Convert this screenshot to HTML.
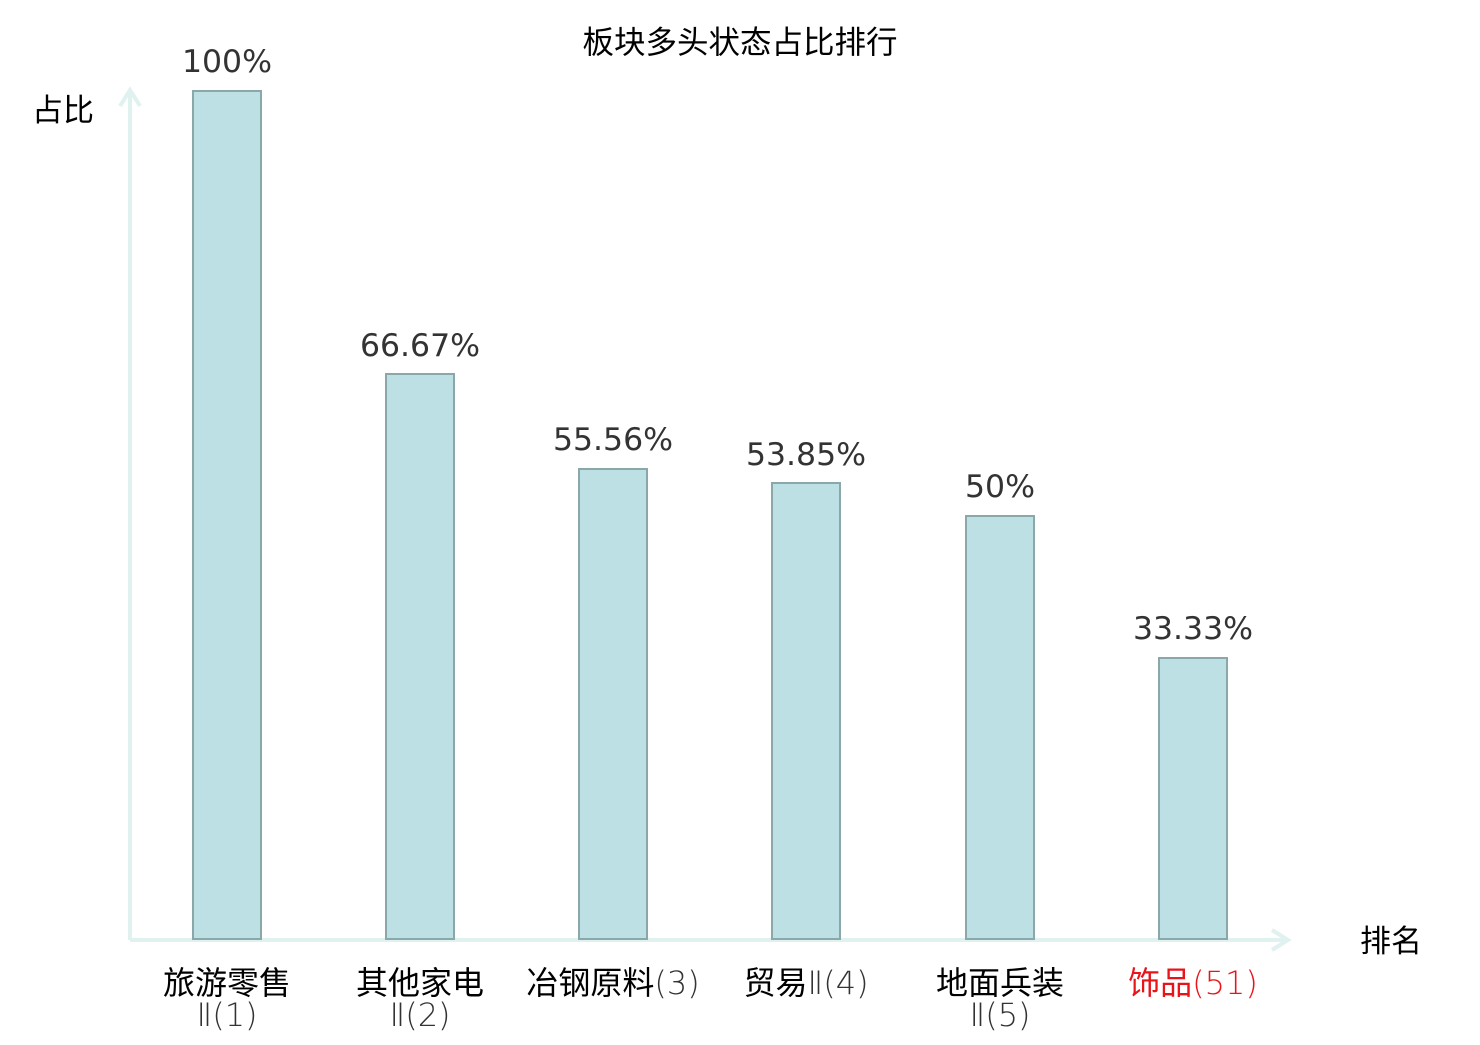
<!DOCTYPE html>
<html><head><meta charset="utf-8"><style>body{margin:0;background:#fff}.l{font-family:"DejaVu Sans ExtraLight","DejaVu Sans",sans-serif;font-weight:200}</style></head><body>
<svg width="1480" height="1040" xmlns="http://www.w3.org/2000/svg" font-family="'DejaVu Sans','Noto Sans CJK SC',sans-serif">
<rect width="1480" height="1040" fill="#fff"/>
<text x="740" y="53" font-size="31.5" text-anchor="middle" fill="#000">板块多头状态占比排行</text>
<text x="63" y="121" font-size="31" text-anchor="middle" fill="#000">占比</text>
<text x="1391" y="952" font-size="31" text-anchor="middle" fill="#000">排名</text>
<g stroke="#dff2f0" stroke-width="4" fill="none">
<line x1="130" y1="940" x2="130" y2="90"/>
<polyline points="120,106 130,90 140,106"/>
<line x1="130" y1="940" x2="1288" y2="940"/>
<polyline points="1272,930 1288,940 1272,950"/>
</g>
<g fill="#bce0e3" stroke="#8aa8aa" stroke-width="2">
<rect x="193" y="91" width="68" height="848"/>
<rect x="386" y="374" width="68" height="565"/>
<rect x="579" y="469" width="68" height="470"/>
<rect x="772" y="483" width="68" height="456"/>
<rect x="966" y="516" width="68" height="423"/>
<rect x="1159" y="658" width="68" height="281"/>
</g>
<g font-size="31.5" fill="#333" text-anchor="middle">
<text x="227" y="72">100%</text>
<text x="420" y="356">66.67%</text>
<text x="613" y="450">55.56%</text>
<text x="806" y="465">53.85%</text>
<text x="1000" y="497">50%</text>
<text x="1193" y="639">33.33%</text>
</g>
<g font-size="32" fill="#000" text-anchor="middle" font-family="'Noto Sans CJK SC',sans-serif">
<text x="227" y="994">旅游零售</text>
<text x="227" y="1026" fill="#333" class="l">Ⅱ(1)</text>
<text x="420" y="994">其他家电</text>
<text x="420" y="1026" fill="#333" class="l">Ⅱ(2)</text>
<text x="613" y="994">冶钢原料<tspan fill="#333" class="l">(3)</tspan></text>
<text x="806" y="994">贸易<tspan fill="#333" class="l">Ⅱ(4)</tspan></text>
<text x="1000" y="994">地面兵装</text>
<text x="1000" y="1026" fill="#333" class="l">Ⅱ(5)</text>
<text x="1193" y="994" fill="#e8141a">饰品<tspan class="l">(51)</tspan></text>
</g>
</svg>
</body></html>
